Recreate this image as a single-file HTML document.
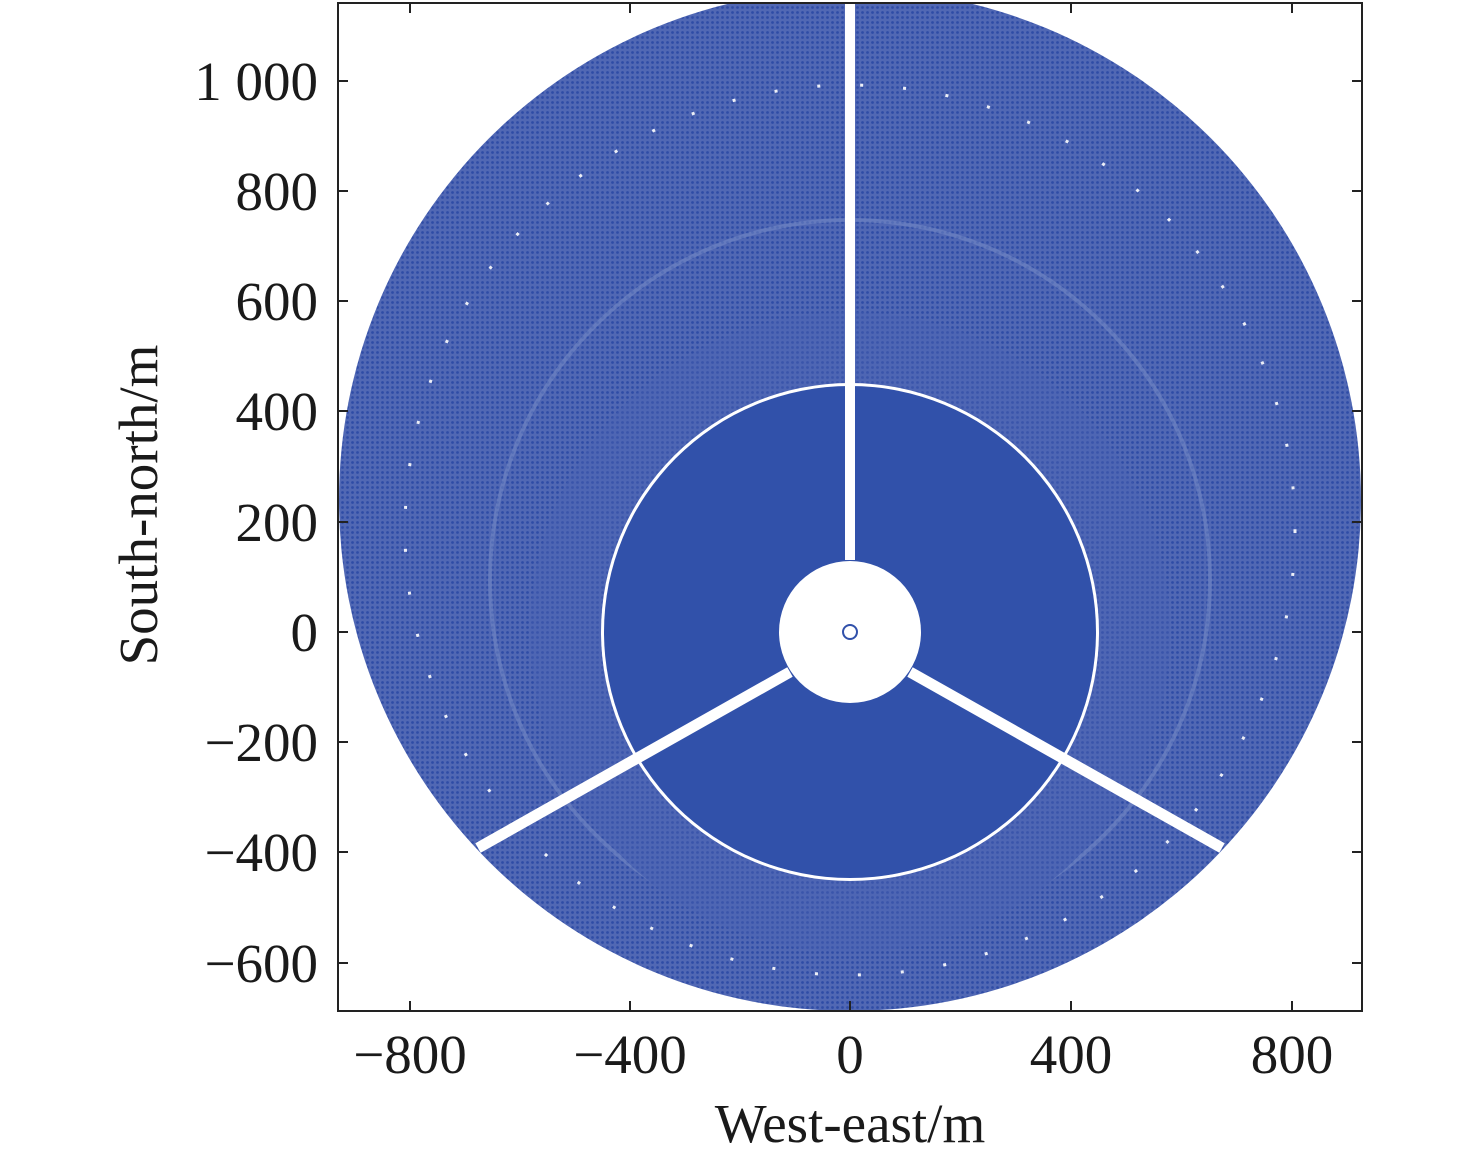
<!DOCTYPE html>
<html><head><style>
html,body{margin:0;padding:0;background:#fff;}
svg{display:block;}
text{font-family:"Liberation Serif",serif;fill:#1a1a1a;}
</style></head><body>
<svg width="1476" height="1160" viewBox="0 0 1476 1160" xmlns="http://www.w3.org/2000/svg">
<defs>
<clipPath id="c"><rect x="338" y="3" width="1024" height="1008"/></clipPath>
<pattern id="dots" width="5" height="5" patternUnits="userSpaceOnUse">
<rect width="5" height="5" fill="#5168b4"/>
<circle cx="2.5" cy="2.5" r="1.4" fill="#2f4ca6"/>
</pattern>
</defs>
<g clip-path="url(#c)">
<circle cx="850" cy="500" r="511" fill="url(#dots)"/>
<circle cx="850" cy="530" r="445" fill="none" stroke="#fff" stroke-width="3" stroke-dasharray="3 40" opacity="0.9"/>
<circle cx="850" cy="580" r="360" fill="none" stroke="#7a8ec8" stroke-width="4" opacity="0.5"/>
<circle cx="850" cy="632" r="320" fill="#4a63b3"/>
<circle cx="850" cy="632" r="320" fill="url(#dots)" opacity="0.6"/>
<circle cx="850" cy="632" r="249" fill="#fff"/>
<circle cx="850" cy="632" r="246" fill="#3151aa"/>
<circle cx="850" cy="632" r="71" fill="#fff"/>
<circle cx="850" cy="632" r="7" fill="none" stroke="#3151aa" stroke-width="2"/>
<rect x="845" y="0" width="10" height="560" fill="#fff"/>
<line x1="790" y1="672" x2="478" y2="848" stroke="#fff" stroke-width="11"/>
<line x1="910" y1="672" x2="1222" y2="848" stroke="#fff" stroke-width="11"/>
</g>
<rect x="338" y="3" width="1024" height="1008" fill="none" stroke="#222" stroke-width="2"/>
<g stroke="#222" stroke-width="2">
<line x1="410" y1="1011" x2="410" y2="1001"/><line x1="630" y1="1011" x2="630" y2="1001"/><line x1="850" y1="1011" x2="850" y2="1001"/><line x1="1071" y1="1011" x2="1071" y2="1001"/><line x1="1292" y1="1011" x2="1292" y2="1001"/>
<line x1="410" y1="3" x2="410" y2="13"/><line x1="630" y1="3" x2="630" y2="13"/><line x1="1071" y1="3" x2="1071" y2="13"/><line x1="1292" y1="3" x2="1292" y2="13"/>
<line x1="338" y1="81" x2="348" y2="81"/><line x1="338" y1="191" x2="348" y2="191"/><line x1="338" y1="301" x2="348" y2="301"/><line x1="338" y1="411" x2="348" y2="411"/><line x1="338" y1="522" x2="348" y2="522"/><line x1="338" y1="632" x2="348" y2="632"/><line x1="338" y1="742" x2="348" y2="742"/><line x1="338" y1="852" x2="348" y2="852"/><line x1="338" y1="963" x2="348" y2="963"/>
<line x1="1362" y1="81" x2="1352" y2="81"/><line x1="1362" y1="191" x2="1352" y2="191"/><line x1="1362" y1="301" x2="1352" y2="301"/><line x1="1362" y1="411" x2="1352" y2="411"/><line x1="1362" y1="522" x2="1352" y2="522"/><line x1="1362" y1="632" x2="1352" y2="632"/><line x1="1362" y1="742" x2="1352" y2="742"/><line x1="1362" y1="852" x2="1352" y2="852"/><line x1="1362" y1="963" x2="1352" y2="963"/>
</g>
<g font-size="55" text-anchor="middle">
<text x="410" y="1073">−800</text><text x="630" y="1073">−400</text><text x="850" y="1073">0</text><text x="1071" y="1073">400</text><text x="1292" y="1073">800</text>
</g>
<g font-size="55" text-anchor="end">
<text x="318" y="100">1 000</text><text x="318" y="210">800</text><text x="318" y="320">600</text><text x="318" y="430">400</text><text x="318" y="541">200</text><text x="318" y="651">0</text><text x="318" y="761">−200</text><text x="318" y="871">−400</text><text x="318" y="982">−600</text>
</g>
<text x="850" y="1142" font-size="55" text-anchor="middle">West-east/m</text>
<text transform="translate(157,505) rotate(-90)" font-size="55" text-anchor="middle">South-north/m</text>
</svg>
</body></html>
